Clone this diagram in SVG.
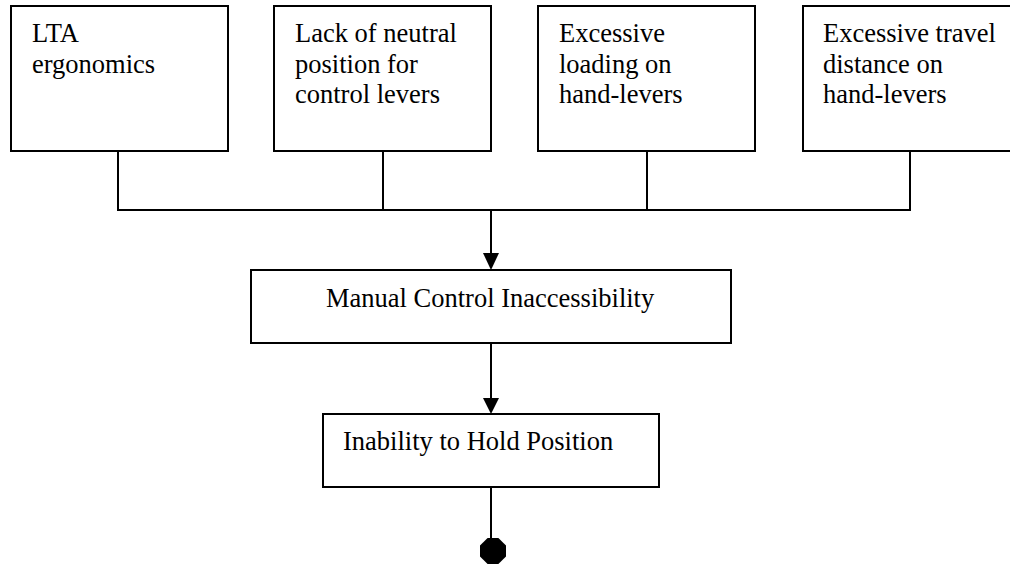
<svg xmlns="http://www.w3.org/2000/svg" width="1010" height="567" viewBox="0 0 1010 567">
<style>
.box{fill:#fff;stroke:#000;stroke-width:2}
.t{font-family:"Liberation Serif","Times New Roman",serif;font-size:26.5px;fill:#000}
.c{fill:none;stroke:#000;stroke-width:2}
</style>
<defs>
<marker id="arr" markerWidth="16" markerHeight="18" refX="8" refY="17" orient="auto" markerUnits="userSpaceOnUse" viewBox="0 0 16 18">
<path d="M0,0 L16,0 L8,18 Z" fill="#000" transform="rotate(-90 8 9)"/>
</marker>
</defs>
<rect width="1010" height="567" fill="#fff"/>
<g id="n1"><rect class="box" x="11" y="6" width="217" height="145"/><text class="t" x="32" y="42">LTA</text><text class="t" x="32" y="72.5">ergonomics</text></g>
<g id="n2"><rect class="box" x="274" y="6" width="217" height="145"/><text class="t" x="295" y="42">Lack of neutral</text><text class="t" x="295" y="72.5">position for</text><text class="t" x="295" y="103">control levers</text></g>
<g id="n3"><rect class="box" x="538" y="6" width="217" height="145"/><text class="t" x="559" y="42">Excessive</text><text class="t" x="559" y="72.5">loading on</text><text class="t" x="559" y="103">hand-levers</text></g>
<g id="n4"><rect class="box" x="803" y="6" width="217" height="145"/><text class="t" x="823" y="42">Excessive travel</text><text class="t" x="823" y="72.5">distance on</text><text class="t" x="823" y="103">hand-levers</text></g>
<g id="n5"><rect class="box" x="251" y="270" width="480" height="73"/><text class="t" x="326" y="307">Manual Control Inaccessibility</text></g>
<g id="n6"><rect class="box" x="323" y="414" width="336" height="73"/><text class="t" x="343" y="450">Inability to Hold Position</text></g>
<g id="n7"><polygon points="487.6,538 498.4,538 506,545.6 506,556.4 498.4,564 487.6,564 480,556.4 480,545.6" fill="#000"/></g>
<g id="connectors">
<path class="c" d="M118,151 V210 H910 V151 M383,151 V210 M647,151 V210"/>
<path class="c" d="M491,210 V253"/>
<path d="M483,253 L499,253 L491,270 Z" fill="#000"/>
<path class="c" d="M491,343 V398"/>
<path d="M483,398 L499,398 L491,414 Z" fill="#000"/>
<path class="c" d="M491,487 V540"/>
</g>
</svg>
